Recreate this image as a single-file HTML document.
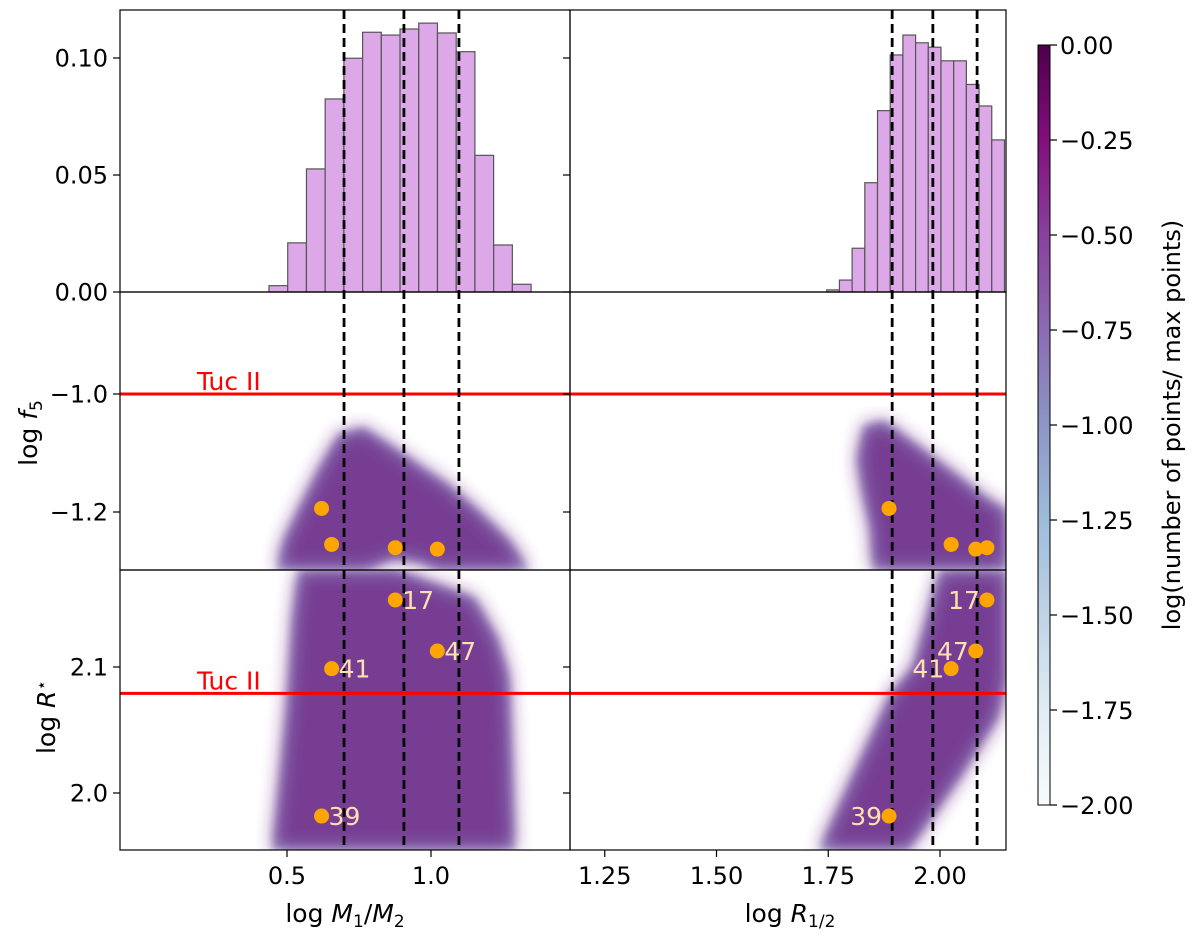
<!DOCTYPE html>
<html><head><meta charset="utf-8"><style>
body{margin:0;background:#fff;}
svg{display:block;font-family:"DejaVu Sans","Liberation Sans",sans-serif;}
</style></head><body>
<svg id="fig" width="1200" height="945" viewBox="0 0 1200 945">
<defs>
<linearGradient id="bupu" x1="0" y1="1" x2="0" y2="0">
<stop offset="0" stop-color="#f7fcfd"/><stop offset="0.125" stop-color="#e0ecf4"/>
<stop offset="0.25" stop-color="#bfd3e6"/><stop offset="0.375" stop-color="#9ebcda"/>
<stop offset="0.5" stop-color="#8c96c6"/><stop offset="0.625" stop-color="#8c6bb1"/>
<stop offset="0.75" stop-color="#88419d"/><stop offset="0.875" stop-color="#810f7c"/>
<stop offset="1" stop-color="#4d004b"/></linearGradient>
<filter id="soft" x="-10%" y="-10%" width="120%" height="120%"><feGaussianBlur stdDeviation="4"/></filter>
<filter id="soft2" x="-10%" y="-10%" width="120%" height="120%"><feGaussianBlur stdDeviation="9"/></filter>
<clipPath id="cML"><rect x="120" y="292" width="450" height="278"/></clipPath>
<clipPath id="cMR"><rect x="570" y="292" width="436" height="278"/></clipPath>
<clipPath id="cBL"><rect x="120" y="570" width="450" height="280"/></clipPath>
<clipPath id="cBR"><rect x="570" y="570" width="436" height="280"/></clipPath>
</defs>
<g id="layer"></g>
</svg>
<script>
// ---- data ----
const histLeftStart = 0.4375, histLeftWidth = 0.065;
const histLeftValues = [0.0027,0.021,0.0526,0.0825,0.0999,0.111,0.1098,0.1124,0.1149,0.1107,0.1027,0.0584,0.0201,0.0033];
const histRightStart = 1.7466, histRightWidth = 0.0284;
const histRightValues = [0.0009,0.0051,0.0187,0.0467,0.0775,0.1013,0.1098,0.1065,0.1046,0.0988,0.0988,0.0887,0.0795,0.065];
const dashLeft = [0.698, 0.906, 1.097];
const dashRight = [1.893, 1.984, 2.083];
const objNames = ["39","41","17","47"];
const objMassRatio = [0.62, 0.655, 0.876, 1.022];
const objRhalf = [1.886, 2.025, 2.105, 2.080];
const objF5 = [-1.194, -1.255, -1.2605, -1.263];
const objRstar = [1.9817, 2.0987, 2.1532, 2.1127];
const tucF5 = -1.0, tucRstar = 2.0791;
const histTicks = [0, 0.05, 0.10], histTickLabels = ["0.00","0.05","0.10"];
const f5Ticks = [-1.0, -1.2], f5TickLabels = ["\u22121.0","\u22121.2"];
const rsTicks = [2.1, 2.0], rsTickLabels = ["2.1","2.0"];
const mrTicks = [0.5, 1.0], mrTickLabels = ["0.5","1.0"];
const rhTicks = [1.25,1.5,1.75,2.0], rhTickLabels = ["1.25","1.50","1.75","2.00"];
const cbTicks = [0,-0.25,-0.5,-0.75,-1,-1.25,-1.5,-1.75,-2];
const cbTickLabels = ["0.00","\u22120.25","\u22120.50","\u22120.75","\u22121.00","\u22121.25","\u22121.50","\u22121.75","\u22122.00"];
// density cloud outlines (data coords)
const cloudML = [[0.465,-1.298],[0.49,-1.247],[0.54,-1.196],[0.61,-1.128],[0.68,-1.069],[0.765,-1.057],[0.87,-1.091],[0.955,-1.120],[1.06,-1.154],[1.16,-1.196],[1.27,-1.247],[1.34,-1.298],[1.02,-1.298],[0.96,-1.285],[0.87,-1.279],[0.78,-1.298]];
const cloudMR = [[1.83,-1.054],[1.875,-1.046],[1.95,-1.088],[2.04,-1.139],[2.11,-1.180],[2.15,-1.196],[2.15,-1.298],[1.85,-1.298],[1.845,-1.23],[1.825,-1.16],[1.815,-1.11]];
const cloudBL = [[0.54,2.177],[0.88,2.177],[1.15,2.155],[1.23,2.123],[1.27,2.093],[1.28,2.03],[1.29,1.955],[0.45,1.955],[0.47,2.0],[0.5,2.07],[0.52,2.14]];
const cloudBR = [[1.73,1.955],[1.93,1.955],[2.04,2.01],[2.13,2.06],[2.15,2.09],[2.15,2.177],[2.0,2.177],[1.94,2.1],[1.89,2.079],[1.80,2.01]];

// ---- axes ----
const xL = v => 287 + (v-0.5)*288;
const xR = v => 940 + (v-2.0)*447;
const yH = v => 292 - v*2340;
const yF = v => 394 - (v+1.0)*590;
const yB = v => 793 - (v-2.0)*1260;
const yC = v => 45 - v*380;

const NS="http://www.w3.org/2000/svg";
const root=document.getElementById('layer');
function mk(tag, attrs, parent){const e=document.createElementNS(NS,tag);for(const k in attrs)e.setAttribute(k,attrs[k]);(parent||root).appendChild(e);return e;}
function txt(s, attrs, parent){const e=mk('text',attrs,parent);e.textContent=s;return e;}

// clouds
function cloud(pts, fx, fy, clip, name){
  const g=mk('g',{'clip-path':'url(#'+clip+')'});
  
  
  const d='M'+pts.map(p=>fx(p[0]).toFixed(1)+','+fy(p[1]).toFixed(1)).join('L')+'Z';
  mk('path',{d:d,fill:'#9aa6d0',filter:'url(#soft)',opacity:'0.9'},g);
  mk('path',{d:d,fill:'#6c2383',filter:'url(#soft2)',opacity:'0.8'},g);
  return g;
}
cloud(cloudML,xL,yF,'cML','density-mass-ratio-f5');
cloud(cloudMR,xR,yF,'cMR','density-rhalf-f5');
cloud(cloudBL,xL,yB,'cBL','density-mass-ratio-rstar');
cloud(cloudBR,xR,yB,'cBR','density-rhalf-rstar');

// histograms
histLeftValues.forEach((v,i)=>{
  const x0=xL(histLeftStart+i*histLeftWidth), x1=xL(histLeftStart+(i+1)*histLeftWidth);
  const r=mk('rect',{x:x0,y:yH(v),width:x1-x0,height:292-yH(v),fill:'#dda8e8',stroke:'#555','stroke-width':1.2});
  
  
});
histRightValues.forEach((v,i)=>{
  const x0=xR(histRightStart+i*histRightWidth), x1=Math.min(1006,xR(histRightStart+(i+1)*histRightWidth));
  const r=mk('rect',{x:x0,y:yH(v),width:x1-x0,height:292-yH(v),fill:'#dda8e8',stroke:'#555','stroke-width':1.2});
  
  
});

// Tuc II lines
const t1=mk('line',{x1:120,x2:1006,y1:yF(tucF5),y2:yF(tucF5),stroke:'#ff0000','stroke-width':3});


const t2=mk('line',{x1:120,x2:1006,y1:yB(tucRstar),y2:yB(tucRstar),stroke:'#ff0000','stroke-width':3});


const tl1=txt('Tuc II',{x:197,y:yF(tucF5)-4,fill:'#ff0000','font-size':25});


const tl2=txt('Tuc II',{x:197,y:yB(tucRstar)-4,fill:'#ff0000','font-size':25});



// dashed lines
dashLeft.forEach(v=>{const l=mk('line',{x1:xL(v),x2:xL(v),y1:10,y2:850,stroke:'#000','stroke-width':2.8,'stroke-dasharray':'9,5'});
  
  });
dashRight.forEach(v=>{const l=mk('line',{x1:xR(v),x2:xR(v),y1:10,y2:850,stroke:'#000','stroke-width':2.8,'stroke-dasharray':'9,5'});
  
  });

// points
objNames.forEach((n,i)=>{
  const pts=[[xL(objMassRatio[i]),yF(objF5[i])],[xR(objRhalf[i]),yF(objF5[i])]];
  pts.forEach(p=>{const c=mk('circle',{cx:p[0],cy:p[1],r:7.5,fill:'#ffa500'});
    
    });
  const a=mk('circle',{cx:xL(objMassRatio[i]),cy:yB(objRstar[i]),r:7.5,fill:'#ffa500'});
  
  
  const b=mk('circle',{cx:xR(objRhalf[i]),cy:yB(objRstar[i]),r:7.5,fill:'#ffa500'});
  
  
  const la=txt(n,{x:xL(objMassRatio[i])+7,y:yB(objRstar[i])+9,fill:'#ffe0b0','font-size':25});
  
  
  const lb=txt(n,{x:xR(objRhalf[i])-7,y:yB(objRstar[i])+9,fill:'#ffe0b0','font-size':25,'text-anchor':'end'});
  
  
});

// frames
[[120,10,450,282],[570,10,436,282],[120,292,450,278],[570,292,436,278],[120,570,450,280],[570,570,436,280]].forEach(r=>{
  const f=mk('rect',{x:r[0],y:r[1],width:r[2],height:r[3],fill:'none',stroke:'#000','stroke-width':1.2});
  
  
});

// y ticks
function yticks(vals,labs,fy,name){
  vals.forEach((v,i)=>{
    mk('line',{x1:113,x2:120,y1:fy(v),y2:fy(v),stroke:'#000','stroke-width':1.2});
    mk('line',{x1:563,x2:570,y1:fy(v),y2:fy(v),stroke:'#000','stroke-width':1.2});
    const t=txt(labs[i],{x:108,y:fy(v)+8.5,'font-size':24,'text-anchor':'end'});
    
    
  });
}
yticks(histTicks,histTickLabels,yH,'hist-y-tick-label');
yticks(f5Ticks,f5TickLabels,yF,'f5-y-tick-label');
yticks(rsTicks,rsTickLabels,yB,'rstar-y-tick-label');
// x ticks
mrTicks.forEach((v,i)=>{mk('line',{x1:xL(v),x2:xL(v),y1:850,y2:857,stroke:'#000','stroke-width':1.2});
  const t=txt(mrTickLabels[i],{x:xL(v),y:884,'font-size':24,'text-anchor':'middle'});
  
  });
rhTicks.forEach((v,i)=>{mk('line',{x1:xR(v),x2:xR(v),y1:850,y2:857,stroke:'#000','stroke-width':1.2});
  const t=txt(rhTickLabels[i],{x:xR(v),y:884,'font-size':24,'text-anchor':'middle'});
  
  });

// axis titles
const at1=txt('',{x:345,y:922,'font-size':25,'text-anchor':'middle'});


at1.innerHTML='log <tspan font-style="italic">M</tspan><tspan font-size="17" dy="5">1</tspan><tspan dy="-5">/</tspan><tspan font-style="italic">M</tspan><tspan font-size="17" dy="5">2</tspan>';
const at2=txt('',{x:790,y:922,'font-size':25,'text-anchor':'middle'});


at2.innerHTML='log <tspan font-style="italic">R</tspan><tspan font-size="17" dy="5">1/2</tspan>';
const at3=txt('',{x:0,y:0,'font-size':25,'text-anchor':'middle',transform:'translate(37,433) rotate(-90)'});


at3.innerHTML='log <tspan font-style="italic">f</tspan><tspan font-size="17" dy="5">5</tspan>';
const at4=txt('',{x:0,y:0,'font-size':25,'text-anchor':'middle',transform:'translate(55,717) rotate(-90)'});


at4.innerHTML='log <tspan font-style="italic">R</tspan><tspan font-size="17" dy="-8">\u22C6</tspan>';

// colorbar
const cb=mk('rect',{x:1038,y:yC(0),width:12,height:yC(-2)-yC(0),fill:'url(#bupu)',stroke:'#000','stroke-width':1});


cbTicks.forEach((v,i)=>{mk('line',{x1:1050,x2:1057,y1:yC(v),y2:yC(v),stroke:'#000','stroke-width':1.2});
  const t=txt(cbTickLabels[i],{x:1060,y:yC(v)+9,'font-size':24});
  
  });
const cbt=txt('log(number of points/ max points)',{x:0,y:0,'font-size':24,'text-anchor':'middle',transform:'translate(1180,425) rotate(-90)'});


</script>
</body></html>
